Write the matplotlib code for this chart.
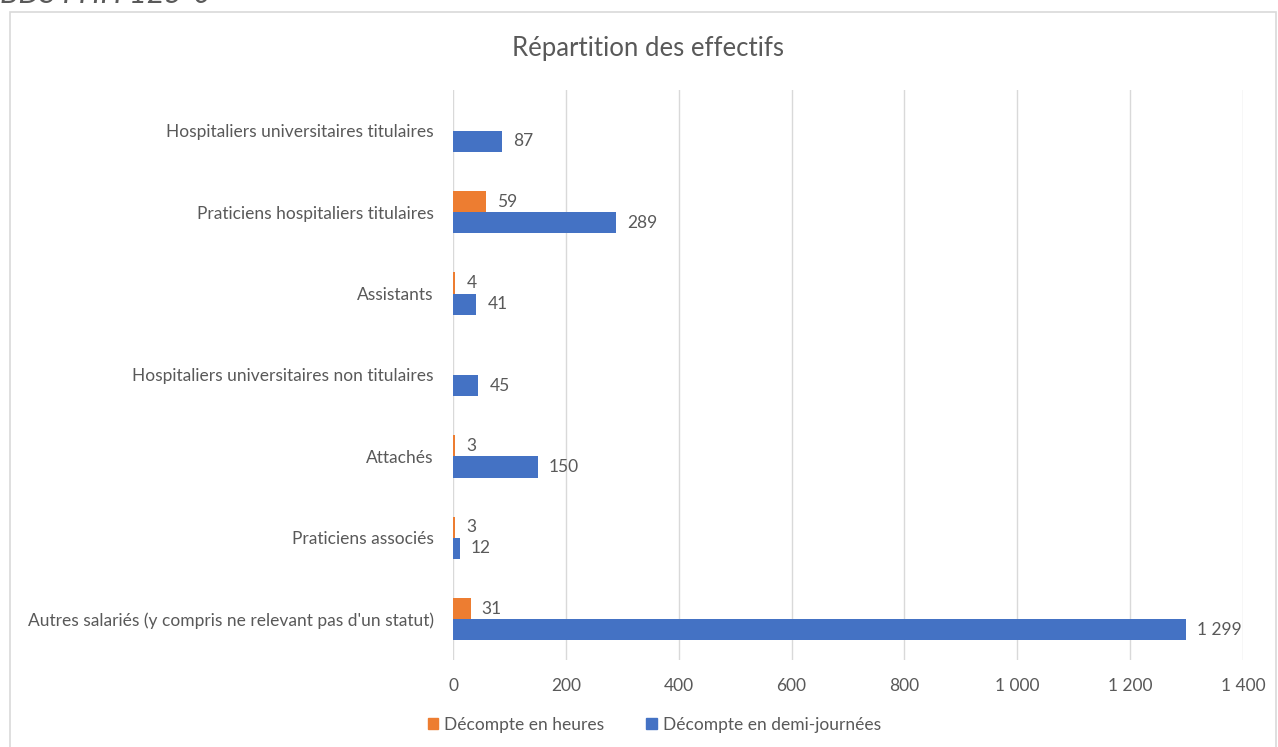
import matplotlib.pyplot as plt
import matplotlib.patches as mpatches
import numpy as np

# Staff categories, top to bottom
categories = [
    "Hospitaliers universitaires titulaires",
    "Praticiens hospitaliers titulaires",
    "Assistants",
    "Hospitaliers universitaires non titulaires",
    "Attachés",
    "Praticiens associés",
    "Autres salariés (y compris ne relevant pas d'un statut)",
]
heures = [None, 59, 4, None, 3, 3, 31]
demi_journees = [87, 289, 41, 45, 150, 12, 1299]
xticks = [0, 200, 400, 600, 800, 1000, 1200, 1400]

orange = "#ED7D31"
blue = "#4472C4"
grey_text = "#595959"

plt.rcParams["font.family"] = ["Lato", "DejaVu Sans"]


def fr_num(v):
    # French style thousands separator
    return f"{v:,}".replace(",", " ")


fig = plt.figure(figsize=(12.78, 7.47), dpi=100)
ax = fig.add_axes([0.3545, 0.1165, 0.618, 0.763])

y = np.arange(len(categories))
h = 0.26

for i, v in enumerate(heures):
    if v is None:
        continue
    ax.barh(y[i] - h / 2, v, height=h, color=orange)
    ax.annotate(fr_num(v), (v, y[i] - h / 2), xytext=(8, 0), textcoords="offset points",
                va="center", ha="left", fontsize=12.5, color=grey_text)

for i, v in enumerate(demi_journees):
    ax.barh(y[i] + h / 2, v, height=h, color=blue)
    ax.annotate(fr_num(v), (v, y[i] + h / 2), xytext=(8, 0), textcoords="offset points",
                va="center", ha="left", fontsize=12.5, color=grey_text)

ax.set_xlim(0, 1400)
ax.set_ylim(len(categories) - 0.5, -0.5)
ax.set_xticks(xticks)
ax.set_xticklabels([fr_num(t) for t in xticks])
ax.set_yticks(y)
ax.set_yticklabels(categories)
ax.tick_params(axis="both", length=0, labelsize=12.5, colors=grey_text)
ax.tick_params(axis="x", pad=13)
ax.tick_params(axis="y", pad=14)
ax.grid(axis="x", color="#D9D9D9", linewidth=1)
ax.set_axisbelow(True)
for s in ax.spines.values():
    s.set_visible(False)

fig.text(0.507, 0.935, "Répartition des effectifs", ha="center", va="center",
         fontsize=18.5, color=grey_text)

# reference code at top, partly cut off
fig.text(0.0, 1.008, "BDS FHH 125-0", ha="left", va="center", fontsize=22,
         style="italic", color=grey_text)

# chart frame
fig.patches.append(mpatches.Rectangle((10 / 1278, -0.05), 1266 / 1278, 1.05 - 12 / 747,
                                      transform=fig.transFigure, fill=False,
                                      edgecolor="#D9D9D9", linewidth=1.2))

handles = [mpatches.Patch(color=orange, label="Décompte en heures"),
           mpatches.Patch(color=blue, label="Décompte en demi-journées")]
leg = fig.legend(handles=handles, loc="center", bbox_to_anchor=(0.512, 0.03), ncol=2,
                 frameon=False, fontsize=12.5, handlelength=0.6, handleheight=0.6,
                 handletextpad=0.35, columnspacing=2.4)
for t in leg.get_texts():
    t.set_color(grey_text)

fig.savefig("out.png", dpi=100)
